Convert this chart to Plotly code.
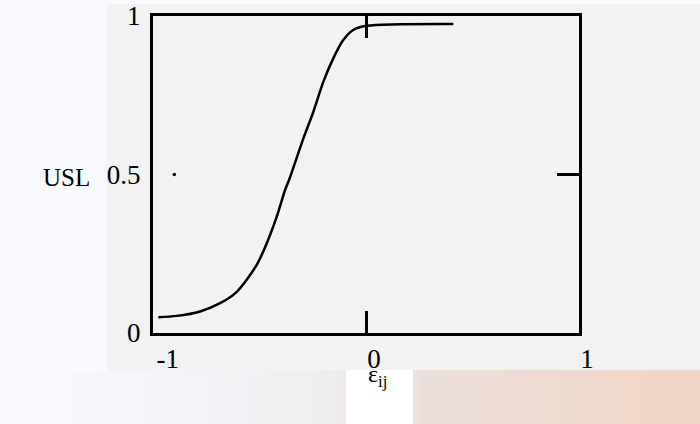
import plotly.graph_objects as go

# curve
eps_ij = [-0.975, -0.889, -0.779, -0.685, -0.607, -0.513, -0.466, -0.419, -0.380,
          -0.360, -0.294, -0.247, -0.200, -0.153, -0.107, -0.060, 0.003, 0.410]
usl = [0.050, 0.054, 0.068, 0.094, 0.130, 0.215, 0.283, 0.367, 0.451,
       0.485, 0.614, 0.698, 0.793, 0.867, 0.924, 0.956, 0.969, 0.975]

# stray dot left by the scan at the 0.5 tick on the left side
dot_x = [-0.9]
dot_y = [0.5]

x_ticks = [-1, 0, 1]
x_labels = ["\u2002-1", "0", "1"]
y_ticks = [0, 0.5, 1]
y_labels = ["0", "0.5", "1"]

W, H = 700, 424
L, R, T, B = 153, 579, 16, 333


def px(x):
    return (x - L) / (R - L)


def py(y):
    return (B - y) / (B - T)


def rect(x0, x1, y0, y1, color):
    return dict(type="rect", xref="paper", yref="paper", layer="below",
                x0=px(x0), x1=px(x1), y0=py(y1), y1=py(y0),
                fillcolor=color, line=dict(width=0))


def mix(c1, c2, t):
    a = [int(c1[i:i + 2], 16) for i in (1, 3, 5)]
    b = [int(c2[i:i + 2], 16) for i in (1, 3, 5)]
    return "#" + "".join("%02x" % round(a[k] + (b[k] - a[k]) * t) for k in range(3))


shapes = [
    rect(0, 700, 0, 424, "#f8fafd"),
    rect(107, 700, 4, 370, "#f2f2f2"),
]
# bottom strip, bluish white fading to peach
stops = [(0, "#f8fafd"), (150, "#f3f5f8"), (320, "#eeedf0"), (430, "#ecdfda"),
         (600, "#f0d9cc"), (700, "#f2d6c5")]
n = 50
for i in range(n):
    xa, xb = 700 * i / n, 700 * (i + 1) / n
    xm = (xa + xb) / 2
    for (s0, c0), (s1, c1) in zip(stops, stops[1:]):
        if s0 <= xm <= s1:
            col = mix(c0, c1, (xm - s0) / (s1 - s0))
            break
    shapes.append(rect(xa, xb + 0.5, 370, 424, col))
shapes.append(rect(346, 413, 370, 424, "#ffffff"))

serif = "Liberation Serif"

fig = go.Figure()
fig.add_trace(go.Scatter(x=eps_ij, y=usl, mode="lines",
                         line=dict(color="black", width=2.5, shape="spline", smoothing=0.8),
                         showlegend=False, hoverinfo="skip"))
fig.add_trace(go.Scatter(x=dot_x, y=dot_y, mode="markers", marker=dict(color="black", size=3.5),
                         showlegend=False, hoverinfo="skip"))
# right-hand axis only carries the inner tick at 0.5
fig.add_trace(go.Scatter(x=[None], y=[None], yaxis="y2", showlegend=False, hoverinfo="skip"))

fig.update_layout(
    width=W, height=H,
    margin=dict(l=L, r=W - R, t=T, b=H - B, autoexpand=False),
    paper_bgcolor="#f8fafd",
    plot_bgcolor="rgba(0,0,0,0)",
    shapes=shapes,
    xaxis=dict(range=[-1, 1], tickvals=x_ticks, ticktext=x_labels, ticks="inside", ticklen=22,
               tickwidth=3, tickcolor="black", showline=True, linewidth=3, linecolor="black",
               mirror="ticks", showgrid=False, zeroline=False, automargin=False,
               ticklabelshift=8,
               tickfont=dict(family=serif, size=27, color="black")),
    yaxis=dict(range=[0, 1], tickvals=y_ticks, ticktext=y_labels, ticks="", showline=True,
               linewidth=3, linecolor="black", mirror=True, showgrid=False, zeroline=False,
               ticklabelstandoff=4, automargin=False,
               tickfont=dict(family=serif, size=27, color="black")),
    yaxis2=dict(range=[0, 1], overlaying="y", side="right", tickvals=[0.5], ticks="inside",
                ticklen=22, tickwidth=3, tickcolor="black", showticklabels=False,
                showgrid=False, zeroline=False, showline=False, automargin=False),
    annotations=[
        dict(text="USL", xref="paper", yref="paper", x=px(41), y=py(178), showarrow=False,
             font=dict(family=serif, size=25, color="black")),
        dict(text="ε<sub>ij</sub>", xref="paper", yref="paper", x=px(377), y=py(393),
             showarrow=False, font=dict(family=serif, size=24, color="black")),
    ],
)

# drop the browser's default body margin so the figure sits at the page corner
fig.write_html("out.html", config={"displayModeBar": False},
               post_script="document.body.style.margin='0';")
